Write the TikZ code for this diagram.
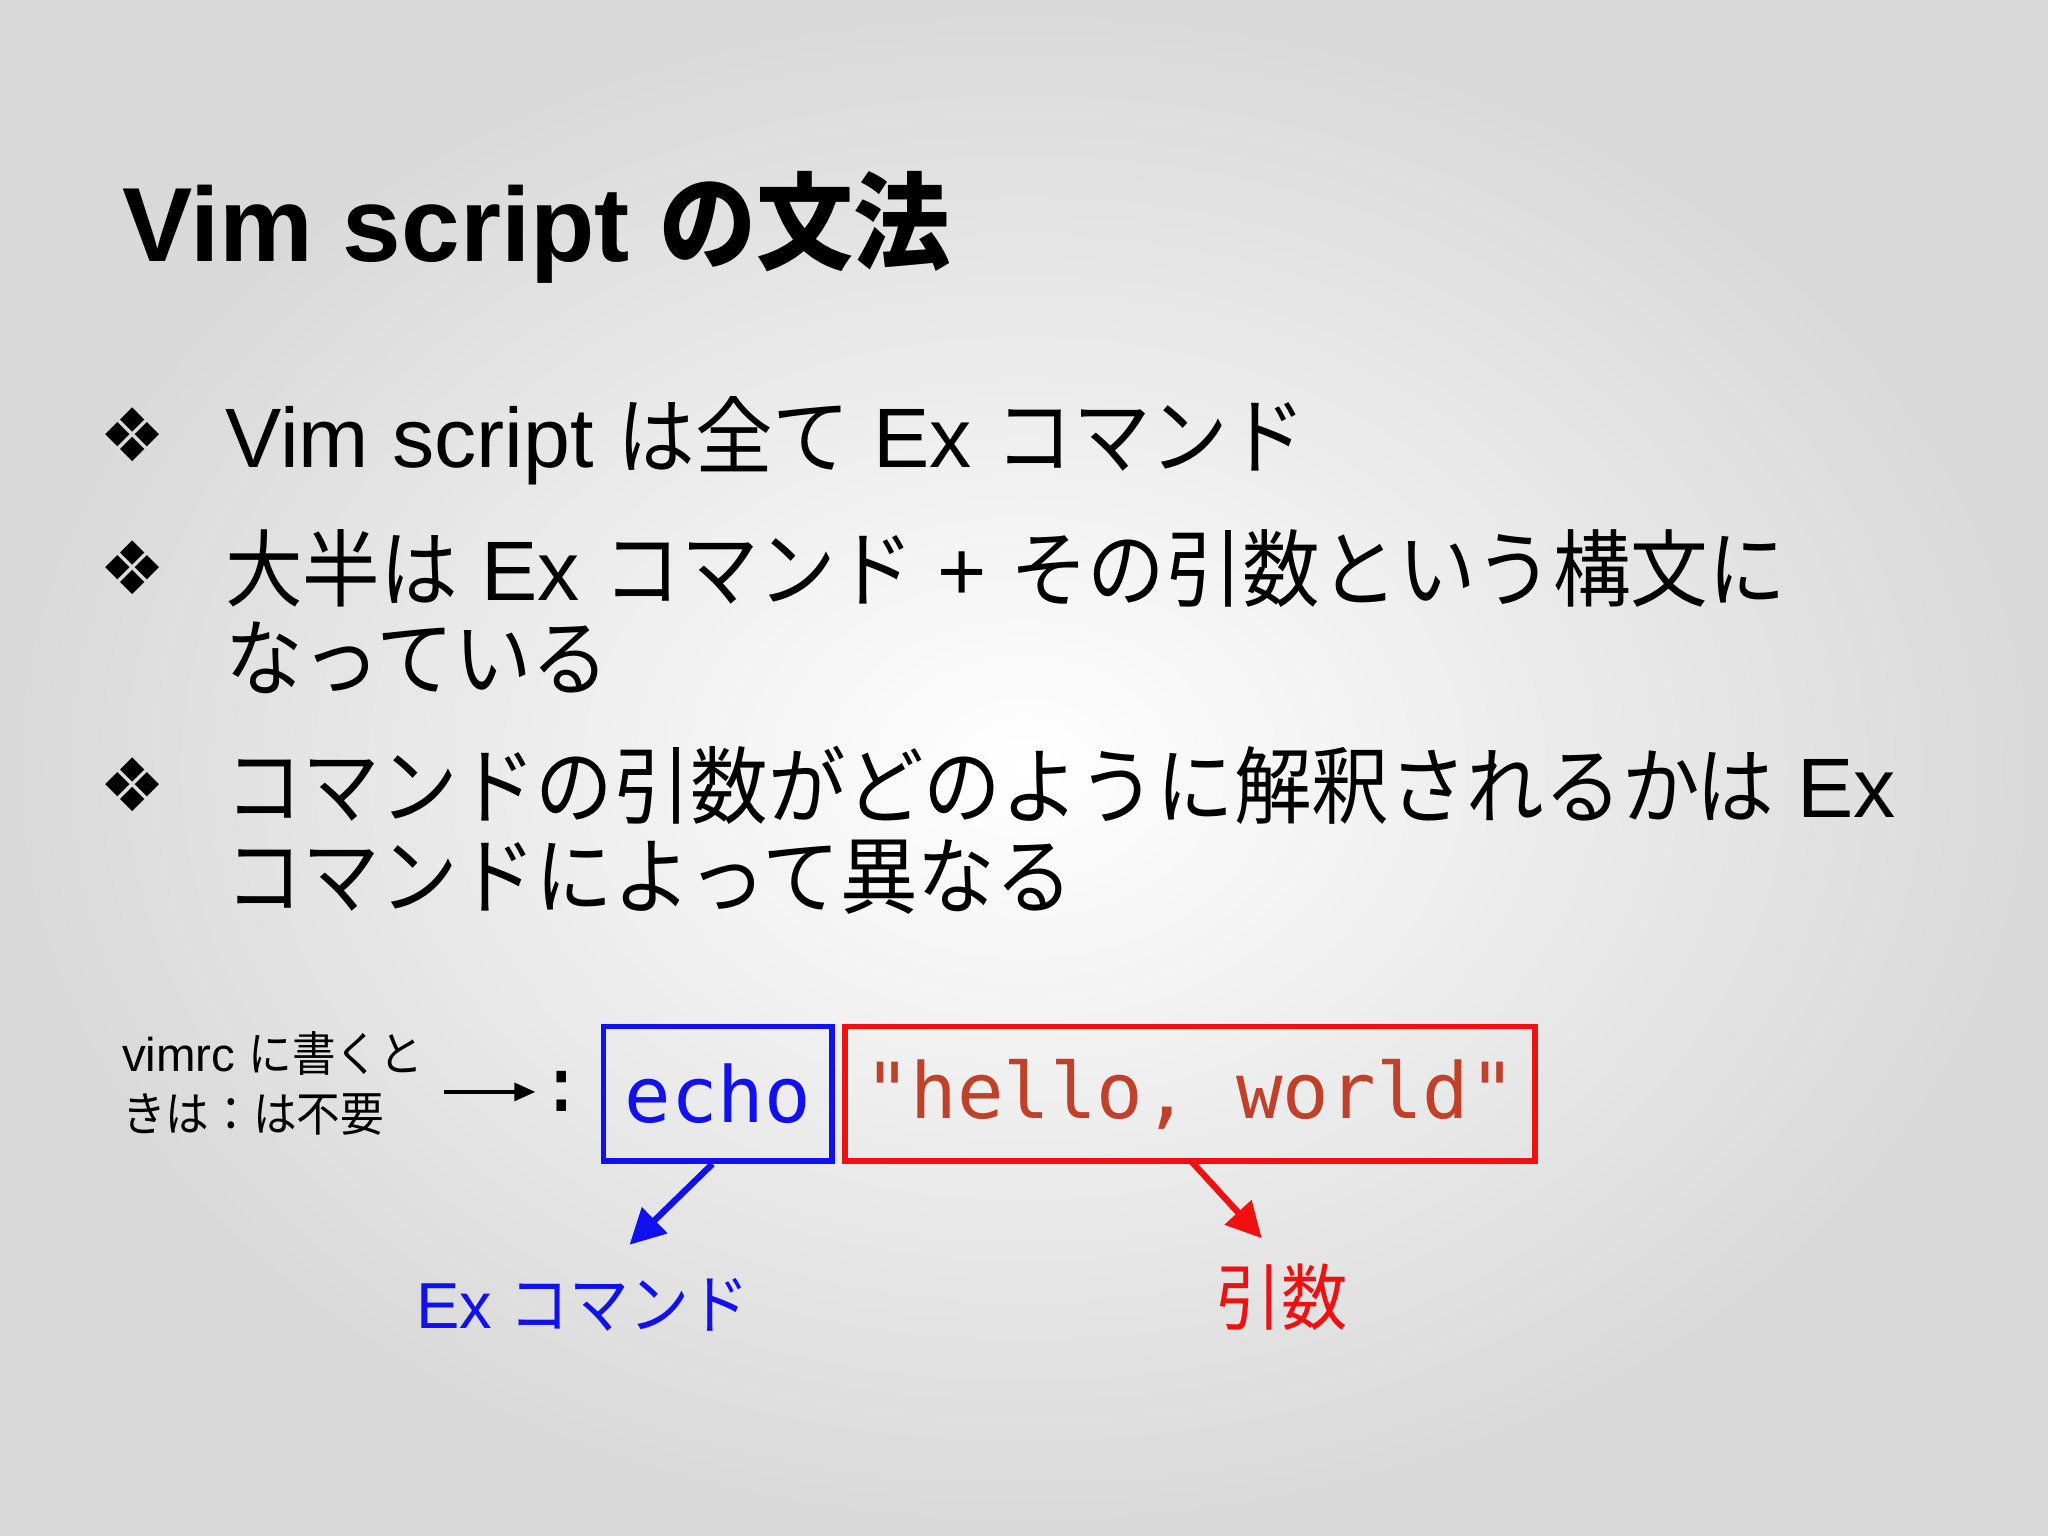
\documentclass[tikz,border=0pt]{standalone}
\usepackage{fontspec}
\setmainfont{Liberation Sans}
\newfontfamily\jpf[FakeStretch=0.92]{Noto Sans CJK JP}
\newfontfamily\djv{DejaVu Sans}
\newfontfamily\monof{DejaVu Sans Mono}
\newcommand{\jp}[1]{{\jpf #1}}
\usetikzlibrary{arrows.meta}
\definecolor{exblue}{HTML}{1010F0}
\definecolor{argred}{HTML}{F01010}
\definecolor{strred}{HTML}{C0402A}
\tikzset{
  txt/.style={anchor=base west,inner sep=0pt},
  bul/.style={txt,font=\fontsize{24pt}{28pt}\selectfont},
  bulsym/.style={txt,font=\djv\fontsize{21pt}{26pt}\selectfont},
  codebox/.style={draw,line width=1.6pt,minimum height=103*0.01306cm,inner sep=0pt},
  callout/.style={-{Triangle[length=10pt,width=10pt]},line width=1.8pt}
}
\begin{document}
\begin{tikzpicture}[x=0.01306cm,y=-0.01306cm]
\useasboundingbox (0,0) rectangle (1568,1176);
\shade[inner color=white,outer color=black!15] (0,0) rectangle (1568,1176);
\node[txt,font=\bfseries\fontsize{30pt}{34pt}\selectfont] (title) at (93,200) {Vim script \jp{\bfseries の文法}};
\node[bulsym] (b1) at (76,353) {❖};
\node[bul] (t1) at (172,358) {Vim script \jp{は全て} Ex \jp{コマンド}};
\node[bulsym] (b2) at (76,455) {❖};
\node[bul] (t2) at (172,460) {\jp{大半は} Ex \jp{コマンド} + \jp{その引数という構文に}};
\node[bul] (t2b) at (172,528) {\jp{なっている}};
\node[bulsym] (b3) at (76,621) {❖};
\node[bul] (t3) at (172,626) {\jp{コマンドの引数がどのように解釈されるかは} Ex};
\node[bul] (t3b) at (172,695) {\jp{コマンドによって異なる}};
\node[txt,font=\fontsize{13.5pt}{16pt}\selectfont] (v1) at (93,820) {vimrc \jp{に書くと}};
\node[txt,font=\fontsize{13.5pt}{16pt}\selectfont] (v2) at (93,866) {\jp{きは：は不要}};
\coordinate (as) at (340,836);
\coordinate (ae) at (410,836);
\draw[-{Triangle[length=6pt,width=5pt]},line width=1.2pt] (as) -- (ae);
\node[txt,font=\monof\fontsize{22pt}{26pt}\selectfont] (colon) at (412,851) {:};
\node[codebox,draw=exblue,minimum width=175*0.01306cm,text=exblue,font=\monof\fontsize{22pt}{26pt}\selectfont] (echo) at (549.5,837.5) {echo};
\node[codebox,draw=argred,minimum width=528*0.01306cm,text=strred,font=\monof\fontsize{22pt}{26pt}\selectfont] (str) at (911,837.5) {"hello, world"};
\node[txt,text=exblue,font=\fontsize{18.5pt}{22pt}\selectfont] (exl) at (318,1017) {Ex \jp{コマンド}};
\node[txt,text=argred,font=\jpf\fontsize{20.5pt}{26pt}\selectfont] (argl) at (930,1014) {引数};
\draw[callout,draw=exblue,fill=exblue] ([xshift=-1.5pt]echo.south) -- (482,953);
\draw[callout,draw=argred,fill=argred] (912,889) -- (966,948);
\end{tikzpicture}
\end{document}
